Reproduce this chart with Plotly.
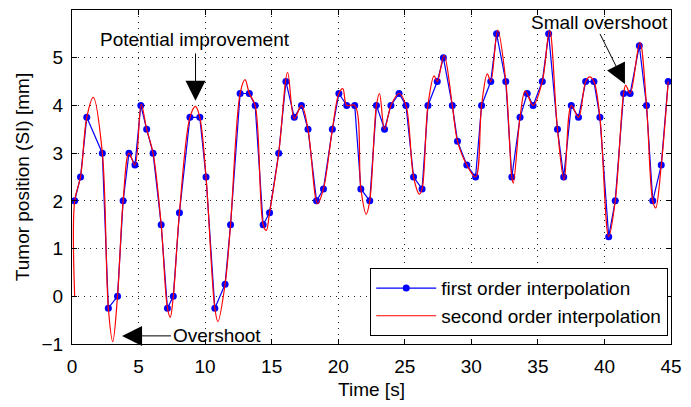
import plotly.graph_objects as go

# First order (sampled) data
t_blue = [0.2, 0.64, 1.11, 2.28, 2.73, 3.42, 3.84, 4.28, 4.73, 5.17, 5.61, 6.09, 6.70, 7.17, 7.61,
          8.07, 8.86, 9.6, 10.07, 10.73, 11.5, 11.91, 12.63, 13.32, 13.76, 14.36, 14.84, 15.53,
          16.07, 16.7, 17.24, 17.73, 18.37, 18.89, 19.56, 20.05, 20.64, 21.24, 21.7, 22.37, 22.87,
          23.48, 23.96, 24.57, 25.09, 25.66, 26.3, 26.74, 27.44, 27.9, 28.57, 28.96, 29.66, 30.32,
          30.77, 31.46, 31.9, 32.59, 33.04, 33.66, 34.2, 34.64, 35.33, 35.81, 36.47, 36.94, 37.51,
          38.05, 38.59, 39.21, 39.66, 40.32, 40.81, 41.44, 41.93, 42.62, 43.16, 43.63, 44.27, 44.79]
y_blue = [2.0, 2.5, 3.75, 3.0, -0.25, 0.0, 2.0, 3.0, 2.75, 4.0, 3.5, 3.0, 1.5, -0.25, 0.0,
          1.75, 3.75, 3.75, 2.5, -0.25, 0.25, 1.5, 4.25, 4.25, 4.0, 1.5, 1.75, 3.0,
          4.5, 3.75, 4.0, 3.5, 2.0, 2.25, 3.5, 4.25, 4.0, 4.0, 2.25, 2.0, 4.0,
          3.5, 4.0, 4.25, 4.0, 2.5, 2.25, 4.0, 4.5, 5.0, 4.0, 3.25, 2.75, 2.5,
          4.0, 4.5, 5.5, 4.5, 2.5, 3.75, 4.25, 4.0, 4.5, 5.5, 3.5, 2.5, 4.0,
          3.75, 4.5, 4.5, 3.75, 1.25, 2.0, 4.25, 4.25, 5.25, 4.0, 2.0, 2.75, 4.5]

# Second order curve
t_red = [0.2, 0.2, 0.64, 1.11, 1.6, 2.28, 2.73, 3.06, 3.42, 3.84, 4.28, 4.73, 5.2, 5.61, 6.09,
         6.70, 7.17, 7.38, 7.61, 8.07, 8.86, 9.28, 9.6, 10.07, 10.73, 10.96, 11.5, 11.91, 12.63,
         13.0, 13.32, 13.76, 14.36, 14.6, 14.84, 15.53, 16.2, 16.7, 17.24, 17.73, 18.45, 18.89,
         19.56, 20.05, 20.35, 20.64, 21.24, 21.7, 22.1, 22.37, 22.87, 23.1, 23.48, 23.96, 24.57,
         25.09, 25.66, 26.1, 26.3, 26.74, 27.2, 27.44, 27.95, 28.57, 28.96, 29.66, 30.32, 30.77,
         31.2, 31.46, 31.98, 32.59, 33.04, 33.15, 33.66, 34.05, 34.64, 35.33, 35.88, 36.47, 36.97,
         37.51, 38.05, 38.59, 38.9, 39.21, 39.66, 40.32, 40.81, 41.44, 41.6, 41.93, 42.66, 43.16,
         43.63, 43.85, 44.27, 44.79]
y_red = [0.0, 2.0, 2.5, 3.75, 4.17, 3.0, -0.25, -0.95, 0.0, 2.0, 3.0, 2.75, 4.02, 3.5, 3.0,
         1.5, -0.25, -0.44, 0.0, 1.75, 3.75, 3.98, 3.75, 2.5, -0.25, -0.53, 0.25, 1.5, 4.25,
         4.54, 4.25, 4.0, 1.5, 1.38, 1.75, 3.0, 4.69, 3.72, 4.0, 3.5, 1.94, 2.25,
         3.5, 4.25, 4.35, 4.0, 4.0, 2.25, 1.72, 2.0, 4.0, 4.25, 3.5, 4.0, 4.25,
         4.0, 2.5, 2.14, 2.25, 4.0, 4.62, 4.5, 5.05, 4.0, 3.25, 2.75, 2.5, 4.0,
         4.66, 4.5, 5.58, 4.5, 2.5, 2.37, 3.75, 4.3, 4.0, 4.5, 5.58, 3.5, 2.44,
         4.0, 3.75, 4.5, 4.6, 4.5, 3.75, 1.25, 2.0, 4.25, 4.42, 4.25, 5.32, 4.0,
         2.0, 1.85, 2.75, 4.5]

x_ticks = [0, 5, 10, 15, 20, 25, 30, 35, 40, 45]
y_ticks = [-1, 0, 1, 2, 3, 4, 5, 6]

FONT = "Liberation Sans, Arial, sans-serif"
FS = 19

fig = go.Figure()
fig.add_trace(go.Scatter(
    x=t_blue, y=y_blue, mode="lines+markers", name="first order interpolation",
    line=dict(color="#0000ff", width=1.2), marker=dict(color="#0000ff", size=7)))
fig.add_trace(go.Scatter(
    x=t_red, y=y_red, mode="lines", name="second order interpolation",
    line=dict(color="#ff0000", width=1.2, shape="spline", smoothing=1.0)))

axis_common = dict(
    showline=True, linecolor="black", linewidth=1.2, mirror="allticks",
    ticks="inside", ticklen=5, tickcolor="black",
    showgrid=True, gridcolor="#222222", gridwidth=1, griddash="1px,5px",
    zeroline=False, tickfont=dict(family=FONT, size=FS, color="black"),
)
fig.update_xaxes(range=[0, 45], tickvals=x_ticks, ticklabelstandoff=5, **axis_common,
                 title=dict(text="Time [s]", font=dict(family=FONT, size=FS, color="black"), standoff=6))
fig.update_yaxes(range=[-1, 6], tickvals=y_ticks, ticklabelstandoff=4, **axis_common,
                 title=dict(text="Tumor position (SI) [mm]", font=dict(family=FONT, size=FS, color="black"), standoff=6))

arrow = dict(showarrow=True, arrowhead=2, arrowsize=4, arrowwidth=1, arrowcolor="black")
fig.add_annotation(x=9.28, y=4.1, ax=9.28, ay=5.12, axref="x", ayref="y", text="", **arrow)
fig.add_annotation(x=9.26, y=5.375, text="Potential improvement", showarrow=False,
                   font=dict(family=FONT, size=FS, color="black"))
fig.add_annotation(x=3.76, y=-0.83, ax=7.55, ay=-0.83, axref="x", ayref="y", text="", **arrow)
fig.add_annotation(x=7.45, y=-0.83, text="Overshoot", showarrow=False, xanchor="left",
                   font=dict(family=FONT, size=FS, color="black"))
fig.add_annotation(x=41.54, y=4.45, ax=39.61, ay=5.53, axref="x", ayref="y", text="", **arrow)
fig.add_annotation(x=39.6, y=5.74, text="Small overshoot", showarrow=False,
                   font=dict(family=FONT, size=FS, color="black"))

fig.update_layout(
    width=691, height=407,
    margin=dict(l=72, r=11, t=9, b=63),
    plot_bgcolor="white", paper_bgcolor="white",
    font=dict(family=FONT, size=FS, color="black"),
    legend=dict(x=0.995, y=0.024, xanchor="right", yanchor="bottom",
                bgcolor="white", bordercolor="black", borderwidth=1.2,
                font=dict(family=FONT, size=FS, color="black"),
                tracegroupgap=0, itemwidth=60, entrywidth=290, entrywidthmode="pixels"),
    showlegend=True,
)

fig.write_html("out.html")
